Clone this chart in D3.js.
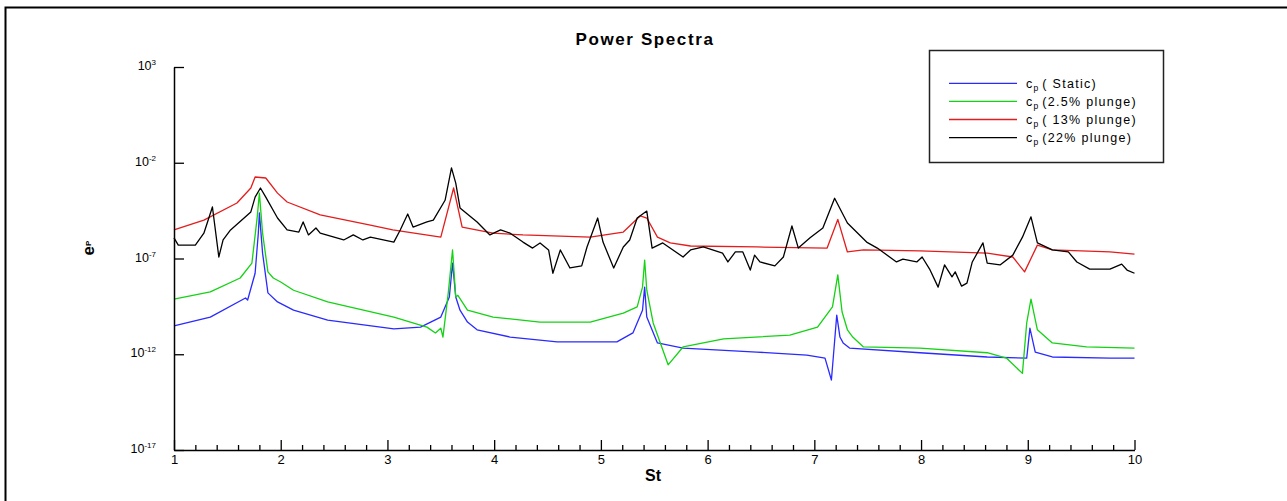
<!DOCTYPE html>
<html>
<head>
<meta charset="utf-8">
<script src="https://cdn.jsdelivr.net/npm/d3@7"></script>
<style>
  html, body { margin: 0; padding: 0; background: #fff; }
  svg { display: block; }
  text { font-family: "Liberation Sans", Arial, sans-serif; fill: #000; }
</style>
</head>
<body>
<svg id="chart" width="1287" height="501"></svg>
<script>
// ---------- DATA ----------
const chartTitle = "Power Spectra";
const xLabel = "St";
const xMajorTicks = [1, 2, 3, 4, 5, 6, 7, 8, 9, 10];
const yTickExponents = [3, -2, -7, -12, -17];
const seriesNames = ["( Static)", "(2.5% plunge)", "( 13% plunge)", "(22% plunge)"];
const seriesColors = ["#2a2aff", "#14d214", "#e41c1c", "#000000"];

// cp (Static)
const stStatic = [1.00,1.34,1.67,1.69,1.76,1.79,1.80,1.83,1.88,1.97,2.12,2.44,3.06,3.31,3.50,3.58,3.61,3.64,3.68,3.75,3.84,4.15,4.59,5.15,5.30,5.39,5.41,5.43,5.53,5.77,6.46,6.93,7.10,7.16,7.17,7.21,7.24,7.27,7.33,7.99,8.62,8.99,9.02,9.07,9.23,9.77,10.0];
const epStatic = [3.0e-11,8.7e-11,8.7e-10,6.8e-10,1.7e-8,2.1e-6,2.4e-5,1.9e-7,1.6e-9,5.4e-10,2.0e-10,6.1e-11,2.1e-11,2.6e-11,8.7e-11,9.8e-10,5.8e-8,9.8e-10,2.0e-10,4.8e-11,1.9e-11,7.9e-12,4.4e-12,4.4e-12,1.3e-11,2.0e-10,3.2e-9,8.7e-11,3.9e-12,2.1e-12,1.3e-12,9.1e-13,6.3e-13,4.5e-14,2.1e-13,1.1e-10,7.9e-12,3.9e-12,2.1e-12,1.2e-12,7.2e-13,6.3e-13,2.3e-11,1.3e-12,7.2e-13,6.3e-13,6.3e-13];

// cp (2.5% plunge)
const st25 = [1.00,1.34,1.62,1.73,1.78,1.80,1.83,1.88,1.93,2.00,2.12,2.44,3.06,3.37,3.45,3.50,3.52,3.57,3.61,3.64,3.66,3.75,3.99,4.43,4.90,5.21,5.34,5.39,5.41,5.43,5.49,5.63,5.77,6.15,6.77,7.03,7.17,7.22,7.26,7.31,7.36,7.46,7.99,8.62,8.80,8.95,8.99,9.03,9.09,9.23,9.55,10.0];
const ep25 = [7.6e-10,1.8e-9,9.6e-9,5.8e-8,1.5e-5,2.6e-4,2.1e-6,2.0e-8,9.6e-9,5.9e-9,2.2e-9,5.4e-10,8.7e-11,2.6e-11,1.3e-11,2.3e-11,7.9e-12,1.6e-9,2.8e-7,9.8e-10,1.2e-9,2.0e-10,8.7e-11,4.8e-11,4.8e-11,1.4e-10,3.0e-10,3.2e-9,8.3e-8,2.2e-9,4.3e-11,2.8e-13,2.4e-12,6.3e-12,1.0e-11,2.6e-11,3.0e-10,1.4e-8,1.6e-10,1.9e-11,7.9e-12,2.4e-12,2.1e-12,1.2e-12,6.3e-13,1.0e-13,4.3e-11,7.6e-10,1.9e-11,3.9e-12,2.4e-12,2.1e-12];

// cp (13% plunge)
const st13 = [1.00,1.28,1.59,1.72,1.76,1.86,1.97,2.06,2.37,2.84,3.05,3.50,3.62,3.70,3.99,4.27,4.90,5.21,5.37,5.43,5.53,5.65,5.84,6.46,7.12,7.22,7.31,7.46,7.99,8.62,8.86,8.97,9.09,9.23,9.77,10.0];
const ep13 = [3.1e-6,1.0e-5,7.9e-5,4.8e-4,1.8e-3,1.6e-3,2.6e-4,8.9e-5,1.9e-5,5.6e-6,3.1e-6,1.3e-6,4.8e-4,4.4e-6,2.1e-6,1.7e-6,1.3e-6,2.4e-6,1.7e-5,1.3e-5,1.3e-6,6.5e-7,4.5e-7,4.0e-7,3.5e-7,1.1e-5,2.2e-7,2.8e-7,2.5e-7,1.9e-7,1.2e-7,2.0e-8,5.0e-7,2.8e-7,2.2e-7,1.7e-7];

// cp (22% plunge)
const st22 = [1.00,1.04,1.20,1.28,1.36,1.42,1.46,1.53,1.72,1.76,1.81,1.86,1.97,2.06,2.17,2.21,2.26,2.33,2.37,2.59,2.68,2.77,2.84,3.06,3.12,3.19,3.24,3.37,3.43,3.54,3.60,3.64,3.68,3.84,3.96,4.06,4.15,4.27,4.36,4.43,4.51,4.55,4.62,4.71,4.82,4.87,4.97,5.02,5.12,5.21,5.27,5.34,5.43,5.48,5.58,5.77,5.84,5.96,6.14,6.19,6.26,6.33,6.40,6.44,6.49,6.63,6.71,6.79,6.85,6.96,7.08,7.19,7.31,7.49,7.59,7.77,7.83,7.96,8.01,8.08,8.16,8.22,8.29,8.32,8.38,8.43,8.48,8.58,8.62,8.74,8.86,8.95,9.03,9.09,9.23,9.38,9.46,9.58,9.77,9.88,9.93,10.0];
const ep22 = [1.2e-6,5.0e-7,5.0e-7,2.1e-6,4.9e-5,1.2e-7,9.3e-7,3.1e-6,2.7e-5,1.6e-4,4.8e-4,1.6e-4,1.3e-5,3.1e-6,2.4e-6,8.1e-6,1.7e-6,3.9e-6,2.1e-6,9.3e-7,1.7e-6,9.3e-7,1.3e-6,7.2e-7,3.1e-6,2.1e-5,4.4e-6,8.1e-6,1.0e-5,1.1e-4,5.4e-3,8.7e-4,4.4e-5,8.1e-6,1.7e-6,3.1e-6,2.1e-6,7.2e-7,3.5e-7,6.5e-7,2.8e-7,1.7e-8,2.8e-7,3.2e-8,4.1e-8,4.0e-7,1.3e-5,7.2e-7,3.2e-8,4.0e-7,9.3e-7,1.3e-5,3.0e-5,3.5e-7,6.5e-7,1.2e-7,2.8e-7,4.0e-7,1.9e-7,6.6e-8,2.2e-7,2.2e-7,2.5e-8,1.5e-7,6.6e-8,4.1e-8,1.2e-7,5.0e-6,3.5e-7,1.2e-6,3.9e-6,1.4e-4,7.1e-6,7.2e-7,3.5e-7,6.6e-8,9.3e-8,6.6e-8,1.2e-7,2.8e-8,3.2e-9,4.6e-8,1.1e-8,2.0e-8,3.6e-9,5.2e-9,6.6e-8,6.5e-7,5.8e-8,4.6e-8,1.5e-7,1.3e-6,1.5e-5,6.5e-7,2.8e-7,2.2e-7,6.6e-8,2.8e-8,2.8e-8,5.1e-8,2.5e-8,1.7e-8];

const seriesSt = [stStatic, st25, st13, st22];
const seriesEp = [epStatic, ep25, ep13, ep22];

// ---------- CHART ----------
const svg = d3.select("#chart");

// outer frame (top and left edges)
svg.append("path")
  .attr("d", "M5.5,501 V7.5 H1287")
  .attr("fill", "none").attr("stroke", "#000").attr("stroke-width", 2);

const x = d3.scaleLinear().domain([1, 10]).range([174, 1134.5]);
const y = d3.scaleLog().domain([1e-17, 1e3]).range([450, 67]);

// title
svg.append("text")
  .attr("x", 645).attr("y", 45)
  .attr("text-anchor", "middle")
  .style("font-size", "17px").style("font-weight", "bold").style("letter-spacing", "1.6px")
  .text(chartTitle);

// series lines
const plot = svg.append("g");
seriesSt.forEach((stArr, i) => {
  const pts = stArr.map((s, j) => [s, seriesEp[i][j]]);
  plot.append("path")
    .datum(pts)
    .attr("fill", "none")
    .attr("stroke", seriesColors[i])
    .attr("stroke-width", 1.3)
    .attr("stroke-linejoin", "round")
    .attr("d", d3.line().x(d => x(d[0])).y(d => y(d[1])));
});

// x axis (ticks inward)
const minorTicks = d3.range(1, 10.001, 0.2).map(v => +v.toFixed(1)).filter(v => Math.abs(v - Math.round(v)) > 1e-6);
const xAxisMinor = svg.append("g").attr("transform", "translate(0,450)")
  .call(d3.axisBottom(x).tickValues(minorTicks).tickSize(-5).tickSizeOuter(0).tickFormat(""));
xAxisMinor.select(".domain").remove();
const xAxis = svg.append("g").attr("transform", "translate(0,450)")
  .call(d3.axisBottom(x).tickValues(xMajorTicks).tickSize(-10).tickSizeOuter(0).tickPadding(5).tickFormat(d3.format("d")));
xAxis.selectAll("text").style("font-size", "13px").style("font-family", "'Liberation Sans', Arial, sans-serif").attr("fill", "#000");
svg.selectAll(".tick line").attr("stroke", "#000").attr("stroke-width", 1.3);
xAxis.select(".domain").attr("stroke", "#000").attr("stroke-width", 1.5);

// y axis (ticks inward)
const yAxis = svg.append("g").attr("transform", "translate(174,0)")
  .call(d3.axisLeft(y).tickValues(yTickExponents.map(e => Math.pow(10, e))).tickSize(-10).tickSizeOuter(0).tickFormat(""));
yAxis.select(".domain").attr("stroke", "#000").attr("stroke-width", 1.5);
yAxis.selectAll(".tick line").attr("stroke", "#000").attr("stroke-width", 1.3);

// y tick labels with superscripts
yTickExponents.forEach(e => {
  const t = svg.append("text")
    .attr("x", 156).attr("y", y(Math.pow(10, e)) + 3)
    .attr("text-anchor", "end")
    .style("font-size", "12.5px");
  t.append("tspan").text("10");
  t.append("tspan").attr("dy", -5).style("font-size", "8px").text(String(e));
});

// x axis label
svg.append("text")
  .attr("x", 653).attr("y", 481)
  .attr("text-anchor", "middle")
  .style("font-size", "16px").style("font-weight", "bold")
  .text(xLabel);

// y axis label e_P (rotated)
const yl = svg.append("text")
  .attr("transform", "translate(94,248) rotate(-90)")
  .attr("text-anchor", "middle")
  .style("font-size", "17px").style("font-weight", "bold");
yl.append("tspan").text("e");
yl.append("tspan").attr("dy", -3).style("font-size", "8px").text("P");

// legend
const legend = svg.append("g");
legend.append("rect")
  .attr("x", 929.5).attr("y", 50.5).attr("width", 234).attr("height", 112)
  .attr("fill", "#fff").attr("stroke", "#222").attr("stroke-width", 1.5);
seriesNames.forEach((name, i) => {
  const ly = 83.3 + i * 18.1;
  legend.append("line")
    .attr("x1", 949).attr("x2", 1017).attr("y1", ly).attr("y2", ly)
    .attr("stroke", seriesColors[i]).attr("stroke-width", 1.3);
  const t = legend.append("text")
    .attr("x", 1026).attr("y", ly + 4.5)
    .style("font-size", "12.5px").style("letter-spacing", "1.3px");
  t.append("tspan").text("c");
  t.append("tspan").attr("dy", 3).style("font-size", "8.5px").style("letter-spacing", "0px").text("p");
  t.append("tspan").attr("dy", -3).attr("dx", 4).text(name);
});
</script>
</body>
</html>
